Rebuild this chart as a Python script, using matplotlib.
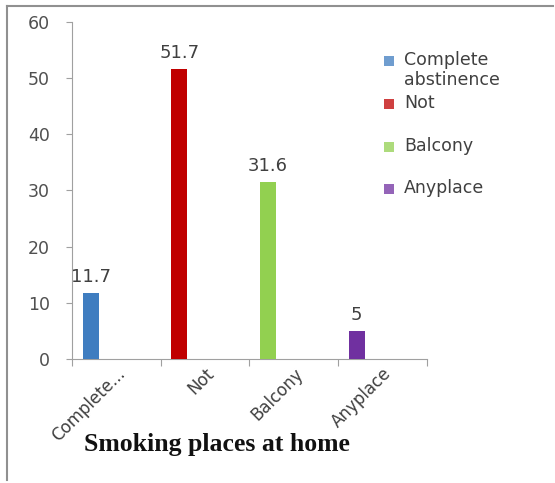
import numpy as np
import matplotlib.pyplot as plt
from matplotlib.patches import Rectangle
from matplotlib.lines import Line2D

# 집에서 흡연하는 장소 (%)
categories = ['Complete...', 'Not', 'Balcony', 'Anyplace']
legend_names = ['Complete\nabstinence', 'Not', 'Balcony', 'Anyplace']
values = [11.7, 51.7, 31.6, 5]
colors = ['#3F7DC0', '#C00000', '#92D050', '#7030A0']

W, H = 555, 483
fig = plt.figure(figsize=(W / 100, H / 100), dpi=100)
ax = fig.add_axes([0.1297, 0.2567, 0.6395, 0.6978])

centers = np.arange(len(categories)) + 0.5
bar_x = centers - 0.29
ax.bar(bar_x, values, width=0.18, color=colors, zorder=3)

for x, v in zip(bar_x, values):
    ax.annotate(f'{v:g}', (x, v), xytext=(0, 5), textcoords='offset points',
                ha='center', va='bottom', fontsize=13, color='#404040')

ax.set_xlim(0, 4)
ax.set_ylim(0, 60)
ax.set_yticks(range(0, 61, 10))
ax.set_xticks(range(0, 5))
ax.set_xticklabels([])
ax.set_xticks(centers, minor=True)
ax.set_xticklabels(categories, minor=True, rotation=45, ha='right',
                   rotation_mode='anchor', fontsize=12, color='#404040')
ax.tick_params(axis='x', which='minor', length=0, pad=4)
ax.tick_params(axis='x', which='major', length=5, color='#A0A0A0')
ax.tick_params(axis='y', length=4, color='#A0A0A0', labelsize=12.5,
               labelcolor='#505050', pad=12)

for s in ['top', 'right']:
    ax.spines[s].set_visible(False)
for s in ['left', 'bottom']:
    ax.spines[s].set_color('#A0A0A0')

fig.text(0.391, 0.079, 'Smoking places at home', ha='center', va='center',
         fontsize=18.5, fontweight='bold', family='Liberation Serif', color='#111111')

# 범례: 색 네모 + 이름 (픽셀 위치)
rows_y = [61, 104, 147, 189]
for name, c, y in zip(legend_names, colors, rows_y):
    fig.add_artist(Rectangle((384 / W, 1 - (y + 5) / H), 10 / W, 10 / H,
                             facecolor=c, alpha=0.75, transform=fig.transFigure))
    fig.text(404 / W, 1 - (y - 10) / H, name, ha='left', va='top',
             fontsize=12.5, color='#404040', linespacing=1.15)

# 바깥 테두리
fig.add_artist(Line2D([0.013, 0.997], [0.987, 0.987], color='#909090', lw=1.5,
                      transform=fig.transFigure))
fig.add_artist(Line2D([0.013, 0.013], [0.006, 0.987], color='#909090', lw=1.5,
                      transform=fig.transFigure))

fig.savefig('out.png', dpi=100)
